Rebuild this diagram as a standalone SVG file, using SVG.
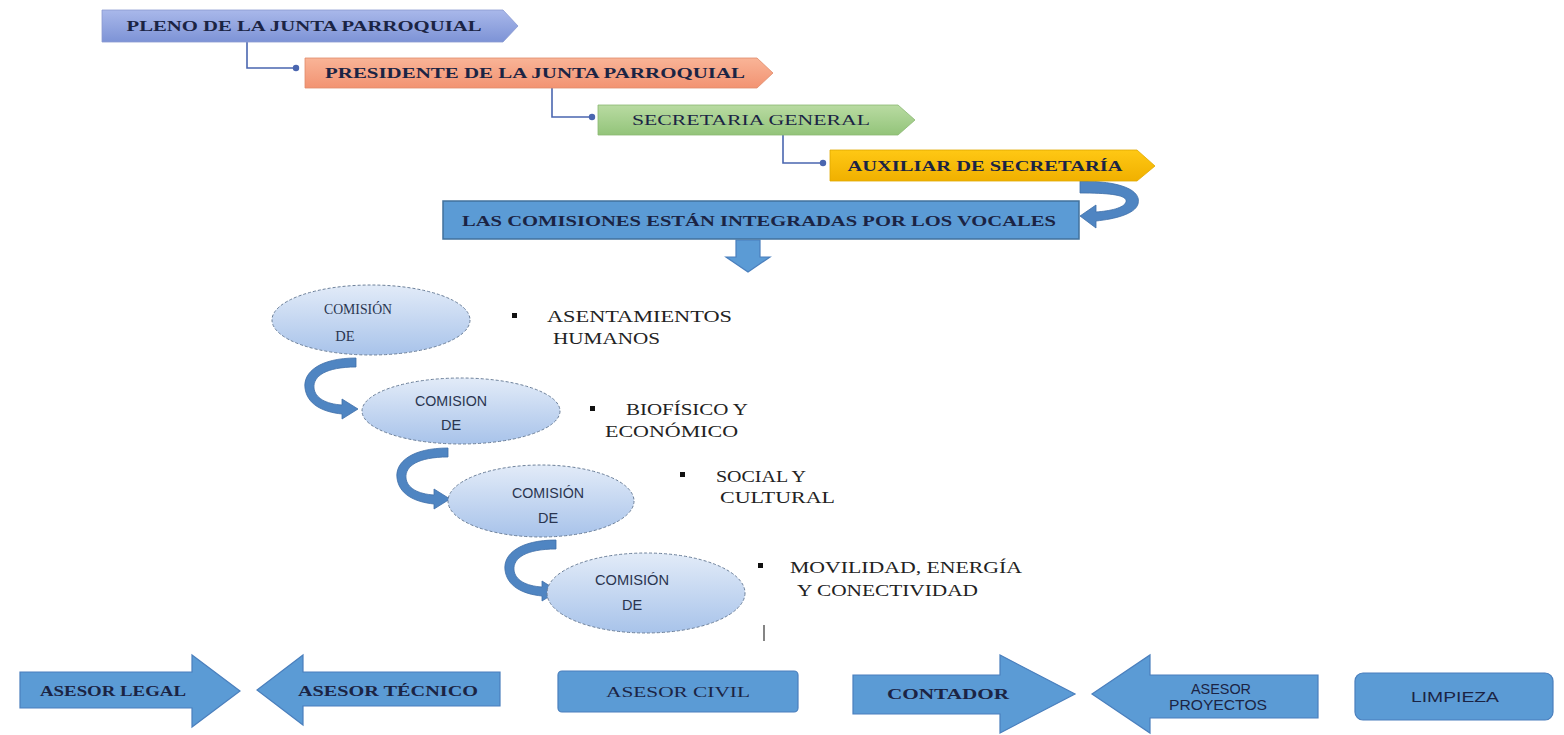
<svg xmlns="http://www.w3.org/2000/svg" width="1564" height="735" viewBox="0 0 1564 735">
<defs>
<linearGradient id="gBlue" x1="0" y1="0" x2="0" y2="1"><stop offset="0" stop-color="#a9b8ea"/><stop offset="1" stop-color="#7d93d6"/></linearGradient>
<linearGradient id="gSalmon" x1="0" y1="0" x2="0" y2="1"><stop offset="0" stop-color="#f9b497"/><stop offset="1" stop-color="#f29372"/></linearGradient>
<linearGradient id="gGreen" x1="0" y1="0" x2="0" y2="1"><stop offset="0" stop-color="#b9dba2"/><stop offset="1" stop-color="#93c47a"/></linearGradient>
<linearGradient id="gGold" x1="0" y1="0" x2="0" y2="1"><stop offset="0" stop-color="#ffc814"/><stop offset="1" stop-color="#f0b000"/></linearGradient>
<linearGradient id="gEll" x1="0" y1="0" x2="0" y2="1"><stop offset="0" stop-color="#e2ebf8"/><stop offset="1" stop-color="#a8c3ea"/></linearGradient>
<marker id="dot" viewBox="0 0 10 10" refX="5" refY="5" markerWidth="5" markerHeight="5"><circle cx="5" cy="5" r="4" fill="#4a66b0"/></marker>
</defs>
<style>
.title{font-family:"Liberation Serif","Times New Roman",serif;font-weight:bold;font-size:15px;fill:#1b2444}
.conn{fill:none;stroke:#4a66b0;stroke-width:1.6}
.blk{fill:#5b9bd5;stroke:#4a7fbd;stroke-width:1.2}
.curve{fill:#4f85c2;stroke:#3f6fa8;stroke-width:0.8}
.ell{fill:url(#gEll);stroke:#6b7f99;stroke-width:1;stroke-dasharray:3 2}
.etxt{font-family:"Liberation Sans",Arial,sans-serif;font-size:14.5px;fill:#2a3550}
.etxts{font-family:"Liberation Serif","Times New Roman",serif;font-size:14.5px;fill:#2a3550}
.btxt{font-family:"Liberation Serif","Times New Roman",serif;font-size:16px;fill:#222222}
.bul{fill:#111111}
.bot{font-family:"Liberation Serif","Times New Roman",serif;font-weight:bold;font-size:15px;fill:#1b2444}
.bots{font-family:"Liberation Sans",Arial,sans-serif;font-size:14px;fill:#1b2444}
</style>
<rect width="1564" height="735" fill="#ffffff"/>

<g id="connectors">
<polyline class="conn" points="247,42 247,68 296,68" marker-end="url(#dot)"/>
<polyline class="conn" points="552,88 552,117 592,117" marker-end="url(#dot)"/>
<polyline class="conn" points="783,135 783,163 823,163" marker-end="url(#dot)"/>
<path class="curve" d="M1080,181 C1120,181 1142,190 1138,204 C1135,214 1115,219 1096,221 L1096,228 L1080,216 L1096,205 L1096,212 C1110,211 1124,208 1126,202 C1128,195 1110,193 1080,193 Z"/>
<path class="blk" d="M736,240 L760,240 L760,257 L770,257 L748,272 L726,257 L736,257 Z" stroke="none"/>
<path class="curve" d="M356,358 C320,358 303,372 305,388 C307,404 322,412 342,414 L342,419 L358,409 L342,399 L342,405 C326,404 315,398 314,388 C313,376 326,367 356,367 Z"/>
<path class="curve" transform="translate(92,90)" d="M356,358 C320,358 303,372 305,388 C307,404 322,412 342,414 L342,419 L358,409 L342,399 L342,405 C326,404 315,398 314,388 C313,376 326,367 356,367 Z"/>
<path class="curve" transform="translate(200,182)" d="M356,358 C320,358 303,372 305,388 C307,404 322,412 342,414 L342,419 L358,409 L342,399 L342,405 C326,404 315,398 314,388 C313,376 326,367 356,367 Z"/>
<line x1="764" y1="625" x2="764" y2="641" stroke="#333333" stroke-width="1.2"/>
</g>

<g id="pleno">
<path d="M102,10 L503,10 L518,26 L503,42 L102,42 Z" fill="url(#gBlue)" stroke="#8a9bd0" stroke-width="0.8"/>
<text class="title" x="304" y="31" text-anchor="middle" textLength="355" lengthAdjust="spacingAndGlyphs">PLENO DE LA JUNTA PARROQUIAL</text>
</g>
<g id="presidente">
<path d="M305,58 L757,58 L773,73 L757,88 L305,88 Z" fill="url(#gSalmon)" stroke="#e08a6a" stroke-width="0.8"/>
<text class="title" x="535" y="78" text-anchor="middle" textLength="420" lengthAdjust="spacingAndGlyphs">PRESIDENTE DE LA JUNTA PARROQUIAL</text>
</g>
<g id="secretaria">
<path d="M598,105 L898,105 L915,120 L898,135 L598,135 Z" fill="url(#gGreen)" stroke="#8ab872" stroke-width="0.8"/>
<text class="title" x="751" y="125" text-anchor="middle" textLength="238" lengthAdjust="spacingAndGlyphs" style="font-weight:normal">SECRETARIA GENERAL</text>
</g>
<g id="auxiliar">
<path d="M830,150 L1137,150 L1155,166 L1137,181 L830,181 Z" fill="url(#gGold)" stroke="#e0a800" stroke-width="0.8"/>
<text class="title" x="985" y="171" text-anchor="middle" textLength="275" lengthAdjust="spacingAndGlyphs">AUXILIAR DE SECRETARÍA</text>
</g>
<g id="comisiones">
<rect x="443" y="201" width="636" height="38" fill="#5b9bd5" stroke="#41719c" stroke-width="1.5"/>
<text class="title" x="759" y="226" text-anchor="middle" textLength="594" lengthAdjust="spacingAndGlyphs">LAS COMISIONES ESTÁN INTEGRADAS POR LOS VOCALES</text>
</g>

<g id="comision1">
<ellipse class="ell" cx="371" cy="320" rx="99" ry="35"/>
<text class="etxts" x="358" y="314" text-anchor="middle" textLength="68" lengthAdjust="spacingAndGlyphs">COMISIÓN</text>
<text class="etxts" x="345" y="341" text-anchor="middle">DE</text>
</g>
<g id="asentamientos">
<rect class="bul" x="512" y="313" width="5" height="5"/>
<text class="btxt" x="547" y="322" textLength="185" lengthAdjust="spacingAndGlyphs">ASENTAMIENTOS</text>
<text class="btxt" x="553" y="344" textLength="107" lengthAdjust="spacingAndGlyphs">HUMANOS</text>
</g>
<g id="comision2">
<ellipse class="ell" cx="461" cy="411" rx="99" ry="33"/>
<text class="etxt" x="451" y="406" text-anchor="middle" textLength="72" lengthAdjust="spacingAndGlyphs">COMISION</text>
<text class="etxt" x="451" y="430" text-anchor="middle">DE</text>
</g>
<g id="biofisico">
<rect class="bul" x="590" y="406" width="5" height="5"/>
<text class="btxt" x="626" y="415" textLength="122" lengthAdjust="spacingAndGlyphs">BIOFÍSICO Y</text>
<text class="btxt" x="605" y="437" textLength="133" lengthAdjust="spacingAndGlyphs">ECONÓMICO</text>
</g>
<g id="comision3">
<ellipse class="ell" cx="541" cy="501" rx="93" ry="36"/>
<text class="etxt" x="548" y="498" text-anchor="middle" textLength="72" lengthAdjust="spacingAndGlyphs">COMISIÓN</text>
<text class="etxt" x="548" y="523" text-anchor="middle">DE</text>
</g>
<g id="social">
<rect class="bul" x="680" y="472" width="5" height="5"/>
<text class="btxt" x="716" y="482" textLength="90" lengthAdjust="spacingAndGlyphs">SOCIAL Y</text>
<text class="btxt" x="720" y="503" textLength="115" lengthAdjust="spacingAndGlyphs">CULTURAL</text>
</g>
<g id="comision4">
<ellipse class="ell" cx="646" cy="593" rx="99" ry="40"/>
<text class="etxt" x="632" y="585" text-anchor="middle" textLength="74" lengthAdjust="spacingAndGlyphs">COMISIÓN</text>
<text class="etxt" x="632" y="610" text-anchor="middle">DE</text>
</g>
<g id="movilidad">
<rect class="bul" x="758" y="563" width="5" height="5"/>
<text class="btxt" x="790" y="573" textLength="232" lengthAdjust="spacingAndGlyphs">MOVILIDAD, ENERGÍA</text>
<text class="btxt" x="797" y="596" textLength="181" lengthAdjust="spacingAndGlyphs">Y CONECTIVIDAD</text>
</g>

<g id="asesor-legal">
<path class="blk" d="M20,672 L192,672 L192,655 L240,691 L192,727 L192,708 L20,708 Z"/>
<text class="bot" x="113" y="696" text-anchor="middle" textLength="146" lengthAdjust="spacingAndGlyphs">ASESOR LEGAL</text>
</g>
<g id="asesor-tecnico">
<path class="blk" d="M500,672 L303,672 L303,655 L257,690 L303,725 L303,706 L500,706 Z"/>
<text class="bot" x="388" y="696" text-anchor="middle" textLength="180" lengthAdjust="spacingAndGlyphs">ASESOR TÉCNICO</text>
</g>
<g id="asesor-civil">
<rect class="blk" x="558" y="671" width="240" height="41" rx="4"/>
<text class="bot" x="678" y="697" text-anchor="middle" textLength="144" lengthAdjust="spacingAndGlyphs" style="font-weight:normal">ASESOR CIVIL</text>
</g>
<g id="contador">
<path class="blk" d="M853,675 L1000,675 L1000,655 L1075,694 L1000,733 L1000,714 L853,714 Z"/>
<text class="bot" x="948" y="699" text-anchor="middle" textLength="122" lengthAdjust="spacingAndGlyphs">CONTADOR</text>
</g>
<g id="asesor-proyectos">
<path class="blk" d="M1318,675 L1150,675 L1150,655 L1092,694 L1150,733 L1150,718 L1318,718 Z"/>
<text class="bots" x="1221" y="694" text-anchor="middle" font-size="12" textLength="60" lengthAdjust="spacingAndGlyphs">ASESOR</text>
<text class="bots" x="1218" y="710" text-anchor="middle" font-size="10" textLength="98" lengthAdjust="spacingAndGlyphs">PROYECTOS</text>
</g>
<g id="limpieza">
<rect class="blk" x="1355" y="673" width="198" height="47" rx="8"/>
<text class="bots" x="1455" y="702" text-anchor="middle" textLength="88" lengthAdjust="spacingAndGlyphs">LIMPIEZA</text>
</g>
</svg>
